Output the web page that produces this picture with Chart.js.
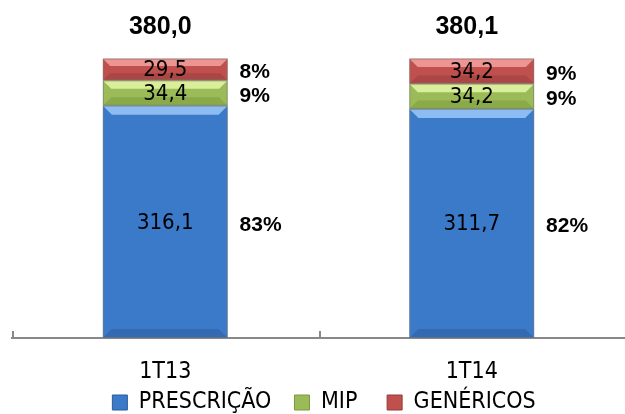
<!DOCTYPE html>
<html>
<head>
<meta charset="utf-8">
<script src="https://cdn.jsdelivr.net/npm/chart.js@4.4.1/dist/chart.umd.min.js"></script>
<style>
  html, body { margin: 0; padding: 0; background: #fff; }
  #wrap { width: 625px; height: 414px; }
</style>
</head>
<body>
<div id="wrap"><canvas id="chart"></canvas></div>
<script>
// data
var categories = ['1T13', '1T14'];
var prescricao = [316.1, 311.7];
var mip = [34.4, 34.2];
var genericos = [29.5, 34.2];

var narrow = '"DejaVu Sans Condensed", "Liberation Sans Narrow", "Liberation Sans", Arial, sans-serif';
var bold = '"Liberation Sans", Arial, sans-serif';

// colors: [light, base, dark]
var colBlue = ['#8cbcf2', '#3b79c9', '#2b5c9c'];
var colGreen = ['#d9ee98', '#9bbb59', '#7a9a3c'];
var colRed = ['#ec9593', '#c0504d', '#943b39'];

function fmt(v) {
    return v.toFixed(1).replace('.', ',');
}

function barFill(cols) {
    return function (ctx) {
        var el = ctx.element;
        if (!el || !isFinite(el.x) || !isFinite(el.width) || !el.width) return cols[1];
        var c = ctx.chart.ctx;
        var half = el.width / 2;
        var g = c.createLinearGradient(el.x - half, 0, el.x + half, 0);
        g.addColorStop(0, cols[2]);
        g.addColorStop(0.06, cols[1]);
        g.addColorStop(0.94, cols[1]);
        g.addColorStop(1, cols[2]);
        return g;
    };
}

// bevel + value labels + percentages + totals + upward tick marks
var labelPlugin = {
    id: 'labelPlugin',
    afterDatasetsDraw: function (chart) {
        var ctx = chart.ctx;
        var sets = chart.data.datasets;
        var colors = [colBlue, colGreen, colRed];
        ctx.save();
        // bevel
        sets.forEach(function (ds, di) {
            var meta = chart.getDatasetMeta(di);
            meta.data.forEach(function (bar) {
                var l = bar.x - bar.width / 2, r = bar.x + bar.width / 2;
                var t = bar.y, b = bar.base;
                var bev = Math.min(9, (b - t) / 3);
                ctx.fillStyle = colors[di][0];
                ctx.beginPath();
                ctx.moveTo(l, t); ctx.lineTo(r, t);
                ctx.lineTo(r - bev, t + bev); ctx.lineTo(l + bev, t + bev);
                ctx.closePath(); ctx.fill();
                ctx.fillStyle = colors[di][2];
                ctx.globalAlpha = 0.5;
                ctx.beginPath();
                ctx.moveTo(l, b); ctx.lineTo(r, b);
                ctx.lineTo(r - bev, b - bev); ctx.lineTo(l + bev, b - bev);
                ctx.closePath(); ctx.fill();
                ctx.globalAlpha = 1;
                ctx.strokeStyle = 'rgba(120,120,120,0.6)';
                ctx.lineWidth = 1;
                ctx.strokeRect(l + 0.5, t + 0.5, r - l - 1, b - t - 1);
            });
        });
        // values and percentages
        ctx.textBaseline = 'middle';
        for (var i = 0; i < categories.length; i++) {
            var total = 0;
            sets.forEach(function (ds) { total += ds.data[i]; });
            var topY = 0, barX = 0;
            sets.forEach(function (ds, di) {
                var bar = chart.getDatasetMeta(di).data[i];
                var cy = (bar.y + bar.base) / 2;
                ctx.fillStyle = '#000';
                ctx.textAlign = 'center';
                ctx.font = '22px ' + narrow;
                ctx.fillText(fmt(ds.data[i]), bar.x, cy + 1);
                ctx.textAlign = 'left';
                ctx.font = 'bold 21px ' + bold;
                ctx.fillText(Math.round(ds.data[i] / total * 100) + '%', bar.x + bar.width / 2 + 12, cy + 3);
                topY = bar.y; barX = bar.x;
            });
            ctx.textAlign = 'center';
            ctx.font = 'bold 25px ' + bold;
            ctx.fillText(fmt(total), barX - 5, topY - 32);
        }
        // tick marks pointing up at category boundaries
        var xs = chart.scales.x;
        var step = xs.getPixelForTick(1) - xs.getPixelForTick(0);
        ctx.strokeStyle = '#888';
        ctx.lineWidth = 2;
        for (var k = 0; k <= categories.length; k++) {
            var px = Math.round(xs.getPixelForTick(0) - step / 2 + k * step) + 1;
            ctx.beginPath();
            ctx.moveTo(px, xs.top);
            ctx.lineTo(px, xs.top - 7);
            ctx.stroke();
        }
        ctx.restore();
    }
};

new Chart(document.getElementById('chart'), {
    type: 'bar',
    data: {
        labels: categories,
        datasets: [
            { label: 'PRESCRIÇÃO', data: prescricao, backgroundColor: barFill(colBlue) },
            { label: 'MIP', data: mip, backgroundColor: barFill(colGreen) },
            { label: 'GENÉRICOS', data: genericos, backgroundColor: barFill(colRed) }
        ]
    },
    options: {
        responsive: true,
        maintainAspectRatio: false,
        animation: false,
        layout: { padding: { top: 44, left: 12, right: -11, bottom: -10 } },
        datasets: { bar: { barPercentage: 0.407, categoryPercentage: 1 } },
        scales: {
            x: {
                stacked: true,
                border: { color: '#888', width: 2 },
                grid: { display: true, drawOnChartArea: false, drawTicks: false },
                ticks: { color: '#000', font: { family: narrow, size: 23 }, padding: 20 },
                afterFit: function (scale) { scale.height = 43; }
            },
            y: {
                stacked: true,
                display: false,
                min: 0,
                max: 400
            }
        },
        plugins: {
            legend: {
                position: 'bottom',
                labels: {
                    color: '#000',
                    font: { family: narrow, size: 23 },
                    boxWidth: 15,
                    boxHeight: 15,
                    padding: 10,
                    generateLabels: function (chart) {
                        var cols = [colBlue, colGreen, colRed];
                        var pad = ['  ', '   ', ''];
                        return chart.data.datasets.map(function (ds, i) {
                            return {
                                text: ds.label + pad[i],
                                fillStyle: cols[i][1],
                                strokeStyle: cols[i][2],
                                lineWidth: 1,
                                datasetIndex: i,
                                fontColor: '#000'
                            };
                        });
                    }
                }
            },
            tooltip: { enabled: false }
        }
    },
    plugins: [labelPlugin]
});
</script>
</body>
</html>
